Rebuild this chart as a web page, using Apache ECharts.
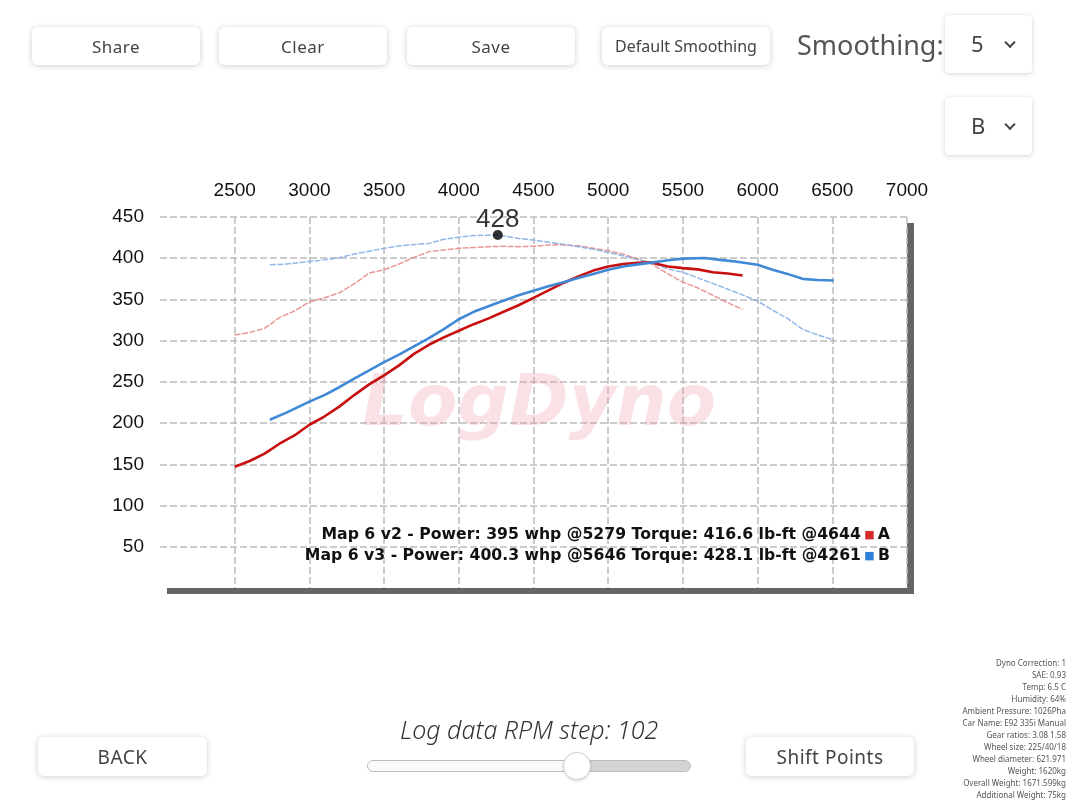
<!DOCTYPE html>
<html>
<head>
<meta charset="utf-8">
<script src="https://cdn.jsdelivr.net/npm/echarts@6/dist/echarts.min.js"></script>
<style>
  html, body { margin: 0; padding: 0; background: #fff; }
  #page { position: relative; width: 1067px; height: 800px; overflow: hidden; font-family: "Noto Sans", sans-serif; }
  #chart { position: absolute; left: 0; top: 0; width: 1067px; height: 800px; }
  .btn {
    position: absolute; background: #fff; border-radius: 5px;
    box-shadow: 0 1px 6px rgba(0,0,0,0.18), 0 0 1px rgba(0,0,0,0.12);
    color: #444; font-size: 17px; letter-spacing: 0.5px;
    display: flex; align-items: center; justify-content: center; z-index: 2;
  }
  .sel {
    position: absolute; background: #fff; border-radius: 4px;
    box-shadow: 0 1px 5px rgba(0,0,0,0.16), 0 0 1px rgba(0,0,0,0.12);
    color: #444; font-size: 22px; z-index: 2;
  }
  .sel .v { position: absolute; left: 26px; top: 50%; transform: translateY(-52%); }
  .sel .chev {
    position: absolute; left: 61px; top: 50%; width: 6px; height: 6px;
    border-right: 2px solid #444; border-bottom: 2px solid #444;
    transform: translateY(-70%) rotate(45deg);
  }
  .lbl { position: absolute; color: #555; z-index: 2; white-space: nowrap; }
  #info { position: absolute; right: 1px; top: 657px; text-align: right; font-size: 8px; line-height: 12px; color: #555; z-index: 2; }
  #track { position: absolute; left: 367px; top: 760px; width: 324px; height: 12px; border-radius: 6px; background: #d4d4d4; border: 1px solid #bdbdbd; box-sizing: border-box; z-index: 2; }
  #fill { position: absolute; left: 0; top: 0; height: 100%; width: 210px; border-radius: 6px 0 0 6px; background: #fafafa; }
  #thumb { position: absolute; left: 563px; top: 752px; width: 28px; height: 28px; border-radius: 50%; background: #fff; border: 1px solid #cfcfcf; box-sizing: border-box; box-shadow: 0 1px 3px rgba(0,0,0,0.15); z-index: 3; }
</style>
</head>
<body>
<div id="page">
  <div id="chart"></div>

  <div class="btn" style="left:32px;top:27px;width:168px;height:38px;">Share</div>
  <div class="btn" style="left:219px;top:27px;width:168px;height:38px;">Clear</div>
  <div class="btn" style="left:407px;top:27px;width:168px;height:38px;">Save</div>
  <div class="btn" style="left:602px;top:27px;width:168px;height:38px;font-size:16px;letter-spacing:0;">Default Smoothing</div>
  <div class="lbl" style="left:797px;top:27px;font-size:27px;line-height:36px;">Smoothing:</div>
  <div class="sel" style="left:945px;top:15px;width:87px;height:58px;"><span class="v">5</span><span class="chev"></span></div>
  <div class="sel" style="left:945px;top:97px;width:87px;height:58px;"><span class="v">B</span><span class="chev"></span></div>

  <div class="btn" style="left:38px;top:737px;width:169px;height:39px;font-size:19px;">BACK</div>
  <div class="lbl" style="left:400px;top:712px;font-size:25px;font-style:italic;font-weight:300;color:#333;">Log data RPM step: 102</div>
  <div id="track"><div id="fill"></div></div>
  <div id="thumb"></div>
  <div class="btn" style="left:746px;top:737px;width:168px;height:39px;font-size:19px;">Shift Points</div>

  <div id="info"></div>
</div>

<script>
// Run A: Map 6 v2
const rpmA = [2500,2600,2700,2800,2900,3000,3100,3200,3300,3400,3500,3600,3700,3800,3900,4000,4100,4200,4300,4400,4500,4644,4700,4800,4900,5000,5100,5200,5279,5400,5500,5600,5700,5800,5900];
const powerA = [147,154,163,175,185,198,208,220,234,247,258,270,284,295,304,312,320,327,335,343,352,365,370,378,385,390,393,394.5,395,390,388,386.5,383,381.5,379];
const torqueA = [307,310,315,328,336,347,352,358,369,382,386,393,401,408,410,412,413,414,414.5,414,414.5,416.6,416,415,412,409,405,399,394,381,371,364,355,346,338];

// Run B: Map 6 v3
const rpmB = [2735,2850,3000,3100,3200,3300,3400,3500,3600,3700,3800,3900,4000,4100,4261,4400,4500,4600,4700,4800,4900,5000,5100,5200,5300,5400,5500,5646,5750,5850,6000,6100,6200,6300,6400,6510];
const powerB = [204,213,226,234,243.5,254,264,274,283,293,303,314,326,335,346,355,360.5,366,371,376,381,386,390,392.5,395,397.5,399.5,400.3,398,396,392,386,381,375,373.5,373];
const torqueB = [392,393,396,398,400.5,405,408.5,412,415,416.5,418,423,425.5,427.5,428.1,424,422,419.5,417,414,411,407,403,398,394,387,383,373,366,359,348,337,327,314,307,301];

const runNames = ['Map 6 v2', 'Map 6 v3'];
const runTags = ['A', 'B'];
const runColors = ['#d42a2a', '#2f80d8'];

// Axis ticks
const rpmTicks = [2000, 7000, 500];
const valueTicks = [0, 450, 50];

// Vehicle / correction details
const infoLines = [
  'Dyno Correction: 1', 'SAE: 0.93', 'Temp: 6.5 C', 'Humidity: 64%',
  'Ambient Pressure: 1026Pha', 'Car Name: E92 335i Manual', 'Gear ratios: 3.08 1.58',
  'Wheel size: 225/40/18', 'Wheel diameter: 621.971', 'Weight: 1620kg',
  'Overall Weight: 1671.599kg', 'Additional Weight: 75kg'
];
document.getElementById('info').innerHTML = infoLines.map(s => '<div>' + s + '</div>').join('');

const pairs = (xs, ys) => xs.map((x, i) => [x, ys[i]]);
function peak(xs, ys) {
  let k = 0;
  ys.forEach((v, i) => { if (v > ys[k]) k = i; });
  return [xs[k], ys[k]];
}
const pkPowA = peak(rpmA, powerA), pkTqA = peak(rpmA, torqueA);
const pkPowB = peak(rpmB, powerB), pkTqB = peak(rpmB, torqueB);

const summary = [
  runNames[0] + ' - Power: ' + pkPowA[1] + ' whp @' + pkPowA[0] + ' Torque: ' + pkTqA[1] + ' lb-ft @' + pkTqA[0],
  runNames[1] + ' - Power: ' + pkPowB[1] + ' whp @' + pkPowB[0] + ' Torque: ' + pkTqB[1] + ' lb-ft @' + pkTqB[0]
];

const GRID = { left: 160, top: 217, width: 747, height: 371 };
const axisFont = 'Liberation Sans, Arial, sans-serif';

const chart = echarts.init(document.getElementById('chart'), null, { renderer: 'canvas' });

const summaryText = (i, y) => ({
  type: 'text', right: 1067 - 890, top: y, z: 20,
  style: {
    text: '{t|' + summary[i] + '} {sq|■} {t|' + runTags[i] + '}',
    rich: {
      t: { fontFamily: 'DejaVu Sans, sans-serif', fontWeight: 'bold', fontSize: 15.7, fill: '#111' },
      sq: { fontSize: 11, fill: runColors[i], fontFamily: 'DejaVu Sans' }
    }
  }
});

chart.setOption({
  animation: false,
  grid: Object.assign({
    show: true, backgroundColor: '#fff', borderWidth: 0,
    shadowColor: '#666', shadowBlur: 0, shadowOffsetX: 7, shadowOffsetY: 6
  }, GRID),
  xAxis: {
    type: 'value', position: 'top', min: rpmTicks[0], max: rpmTicks[1], interval: rpmTicks[2],
    axisLine: { show: false }, axisTick: { show: false },
    axisLabel: { fontSize: 19, color: '#111', margin: 17, fontFamily: axisFont,
      formatter: v => v === rpmTicks[0] ? '' : String(v) },
    splitLine: { show: true, showMinLine: false, lineStyle: { color: '#bcbcbc', width: 1.5, type: [7, 3] } }
  },
  yAxis: {
    type: 'value', min: valueTicks[0], max: valueTicks[1], interval: valueTicks[2],
    axisLine: { show: false }, axisTick: { show: false },
    axisLabel: { fontSize: 19, color: '#111', margin: 16, fontFamily: axisFont,
      formatter: v => v === valueTicks[0] ? '' : String(v) },
    splitLine: { show: true, showMinLine: false, lineStyle: { color: '#bcbcbc', width: 1.5, type: [7, 3] } }
  },
  graphic: [
    {
      type: 'text', left: 362, top: 370, z: 1, silent: true,
      style: {
        text: 'LogDyno', fontFamily: 'DejaVu Sans', fontStyle: 'italic', fontWeight: 'bold',
        fontSize: 72, fill: 'rgba(236,140,155,0.26)',
        shadowColor: 'rgba(220,120,135,0.22)', shadowOffsetX: 4, shadowOffsetY: 4, shadowBlur: 2
      }
    },
    summaryText(0, 527),
    summaryText(1, 548)
  ],
  series: [
    { name: runNames[0] + ' torque', type: 'line', data: pairs(rpmA, torqueA), showSymbol: false, z: 3,
      lineStyle: { color: '#e58585', width: 1.5, type: [6, 1.5], opacity: 0.85 } },
    { name: runNames[1] + ' torque', type: 'line', data: pairs(rpmB, torqueB), showSymbol: false, z: 3,
      lineStyle: { color: '#86b0e4', width: 1.5, type: [6, 1.5], opacity: 0.9 } },
    { name: runNames[0] + ' power', type: 'line', data: pairs(rpmA, powerA), showSymbol: false, z: 4,
      lineStyle: { color: '#c80f0f', width: 2.6 } },
    { name: runNames[1] + ' power', type: 'line', data: pairs(rpmB, powerB), showSymbol: false, z: 4,
      lineStyle: { color: '#4089d6', width: 2.6 } },
    { name: 'peak', type: 'scatter', data: [pkTqB], symbolSize: 10, z: 6,
      itemStyle: { color: '#000' },
      label: { show: true, position: 'top', distance: 1, offset: [0, 4], fontSize: 26, color: '#000',
        fontFamily: axisFont, formatter: p => String(Math.round(p.value[1])) } }
  ]
});
</script>
</body>
</html>
